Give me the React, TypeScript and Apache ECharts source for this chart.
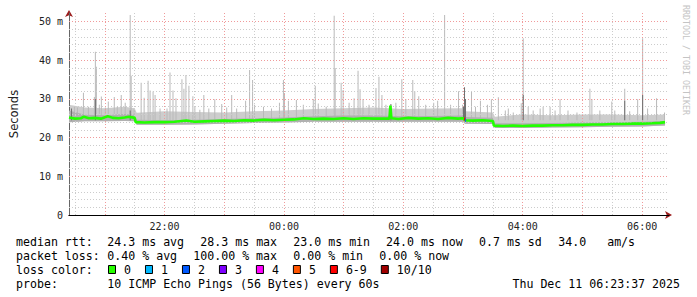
import { useEffect, useRef } from "react";
import * as echarts from "echarts";

// ---- axis / tick data ----
const xStart = "20:24";
const xEnd = "06:27";
const xLabelTimes = ["22:00", "00:00", "02:00", "04:00", "06:00"];
const majorTimes = ["21:00", "22:00", "23:00", "00:00", "01:00", "02:00", "03:00", "04:00", "05:00", "06:00"];
const minorTimes = ["20:30", "21:30", "22:30", "23:30", "00:30", "01:30", "02:30", "03:30", "04:30", "05:30"];
const yMajor = [10, 20, 30, 40, 50];
const yMinor = [2, 4, 6, 8, 12, 14, 16, 18, 22, 24, 26, 28, 32, 34, 36, 38, 42, 44, 46, 48];
const yMax = 52.2;

// ---- median rtt (ms) ----
const medianTimes = ["20:24","20:30","20:36","20:39","20:44","20:50","20:56","21:03","21:08","21:14","21:20","21:24","21:30","21:31","21:40","21:50","22:00","22:10","22:22","22:30","22:40","22:50","23:00","23:10","23:20","23:30","23:40","23:50","00:00","00:10","00:20","00:30","00:40","00:50","01:00","01:10","01:20","01:30","01:40","01:46","01:47","01:48","01:55","02:05","02:15","02:25","02:35","02:45","02:55","03:00","03:02","03:10","03:20","03:30","03:31","03:40","03:50","04:00","04:10","04:20","04:30","04:40","04:50","05:00","05:10","05:20","05:30","05:40","05:50","06:00","06:10","06:18","06:23"];
const medianValues = [25.2,24.9,25.0,25.4,25.0,25.1,24.9,25.5,25.1,25.0,25.2,25.4,25.1,24.0,23.9,24.0,24.0,24.1,24.4,24.1,24.2,24.3,24.4,24.3,24.5,24.4,24.6,24.5,24.6,24.7,25.0,24.8,24.9,24.8,25.0,24.8,25.0,24.9,24.9,24.9,28.3,25.0,24.8,25.1,24.9,25.0,24.8,25.1,24.9,25.0,24.5,24.4,24.5,24.3,23.1,23.0,23.1,23.0,23.1,23.1,23.2,23.2,23.3,23.3,23.4,23.4,23.5,23.5,23.6,23.6,23.7,23.8,24.0];

// ---- samples with packet loss ----
const lossTimes = ["03:01", "03:02"];
const lossValues = [24.8, 24.5];
const lossColors = ["#ff0000", "#0059ff"];

// ---- smoke envelope (ms) ----
const smokeTimes = ["20:24","20:40","21:00","21:20","21:30","21:32","22:00","22:30","23:00","23:30","00:00","00:30","01:00","01:30","02:00","02:30","03:00","03:02","03:30","03:32","04:00","04:30","05:00","05:30","06:00","06:23"];
const smokeLow = [24.0,24.2,24.2,24.3,24.2,23.3,23.3,23.4,23.6,23.8,23.9,24.1,24.1,24.1,24.1,24.1,24.1,23.6,23.5,22.5,22.5,22.6,22.7,22.8,22.9,23.1];
const smokeHigh = [28.5,27.8,27.6,28.0,27.6,26.4,26.8,26.6,26.5,26.8,27.0,27.4,27.6,27.8,27.4,27.5,27.6,26.8,26.5,25.4,26.0,25.8,26.0,26.0,25.8,26.0];
const smokeDarkHigh = [27.0,25.9,25.8,26.1,25.9,24.6,24.5,24.6,24.8,25.0,25.2,25.5,25.7,25.7,25.5,25.6,25.7,25.3,25.1,23.7,23.7,23.8,23.9,24.0,24.1,24.3];

// ---- individual smoke spikes (max ping, ms) ----
const spikeBase = 24.5;
const spikeTimes = [
  "20:29","20:32","20:38","20:43","20:49","20:50","20:51","20:54","20:56","21:00",
  "21:03","21:09","21:12","21:16","21:20","21:25","21:26","21:29","21:36","21:39",
  "21:43","21:45","21:48","21:50","21:55","22:02","22:05","22:08","22:11","22:17",
  "22:19","22:21","22:24","22:28","22:30","22:35","22:39","22:44","22:50","22:57",
  "23:02","23:07","23:12","23:21","23:25","23:28","23:30","23:39","23:47","23:55",
  "23:59","00:00","00:04","00:12","00:19","00:29","00:31","00:34","00:42","00:50",
  "00:51","00:57","00:59","01:05","01:10","01:14","01:16","01:19","01:25","01:32",
  "01:35","01:38","01:42","01:52","01:58","02:02","02:09","02:11","02:15","02:22",
  "02:30","02:34","02:41","02:47","02:55","02:59","03:08","03:12","03:17","03:24",
  "03:28","03:35","03:42","03:45","03:50","03:58","04:00","04:05","04:10","04:17",
  "04:20","04:27","04:32","04:37","04:45","04:54","05:07","05:09","05:17","05:29",
  "05:32","05:42","05:47","05:55","06:00","06:05","06:14","06:22"];
const spikeTops = [
  28.0,27.8,31.6,28.0,30.5,42.2,38.3,28.5,30.6,27.8,
  29.3,30.5,28.0,31.0,29.0,51.7,36.0,27.5,34.2,30.3,
  34.7,32.2,31.9,31.0,27.5,27.5,36.8,32.2,30.2,35.1,
  32.6,36.2,33.4,30.7,28.0,27.2,31.0,27.5,29.9,28.7,
  27.8,31.0,27.5,29.5,37.5,34.9,28.5,28.0,27.5,29.0,
  34.9,31.5,29.5,29.7,28.5,30.0,33.4,28.8,28.0,51.5,
  38.0,34.2,32.3,29.0,30.2,37.3,32.5,30.0,28.5,32.8,
  35.7,31.0,28.5,29.0,35.1,30.0,34.9,32.0,30.7,28.5,
  29.0,29.5,51.7,28.5,32.0,28.5,32.0,28.0,29.5,28.5,
  29.9,30.4,27.0,27.5,26.5,28.9,45.7,28.0,27.0,27.5,
  28.0,28.0,27.0,29.9,27.0,26.5,32.6,30.0,27.0,29.3,
  27.0,32.6,26.8,29.9,45.7,27.5,30.2,26.5];
const darkSpikeTimes = ["20:26","20:50","21:25","01:47","03:00","03:01","03:02","04:00","05:42","06:00"];
const darkSpikeTops = [27.5,30.0,27.0,28.7,28.0,33.0,30.0,31.0,29.5,31.0];

// ---- legend texts ----
const legendRtt = ["median rtt:", "24.3 ms avg", "28.3 ms max", "23.0 ms min", "24.0 ms now", "0.7 ms sd", "34.0   am/s"];
const legendRttX = [16, 107.3, 200.3, 293.3, 386, 479, 558.3];
const legendLoss = ["packet loss:", "0.40 % avg", "100.00 % max", "0.00 % min", "0.00 % now"];
const legendLossX = [16, 107.3, 193.3, 293.3, 379.3];
const lossColorLabels = ["0", "1", "2", "3", "4", "5", "6-9", "10/10"];
const lossColorFills = ["#26ff00", "#00b8ff", "#0059ff", "#7e00ff", "#ff00ff", "#ff5500", "#ff0000", "#a10000"];
const probeText = "10 ICMP Echo Pings (56 Bytes) every 60s";
const dateText = "Thu Dec 11 06:23:37 2025";
const watermark = "RRDTOOL / TOBI OETIKER";

function toMin(s: string): number {
  const [h, m] = s.split(":").map(Number);
  return (h < 12 ? h + 24 : h) * 60 + m;
}
function pad(n: number) {
  return (n < 10 ? "0" : "") + n;
}

const mono = '"DejaVu Sans Mono", monospace';
const legendFont = '11.6px "DejaVu Sans Mono", monospace';

function buildOption(): any {
  const xMin = toMin(xStart);
  const xMax = toMin(xEnd);
  const minorStyle = { color: "#cccccc", type: [1, 2], width: 1 };
  const majorStyle = { color: "#f09a9a", type: [1, 2], width: 1 };

  const gridLines = [
    ...minorTimes.map((t) => ({ xAxis: toMin(t), lineStyle: minorStyle })),
    ...yMinor.map((v) => ({ yAxis: v, lineStyle: minorStyle })),
    ...majorTimes.map((t) => ({ xAxis: toMin(t), lineStyle: majorStyle })),
    ...yMajor.map((v) => ({ yAxis: v, lineStyle: majorStyle })),
  ];

  const bandRender = (hiArr: number[], fill: string) => (params: any, api: any) => {
    if (params.dataIndex !== 0) return null;
    const top = smokeTimes.map((t, i) => api.coord([toMin(t), hiArr[i]]));
    const bot = smokeTimes.map((t, i) => api.coord([toMin(t), smokeLow[i]])).reverse();
    return { type: "polygon", shape: { points: top.concat(bot) }, style: { fill } };
  };

  const barRender = (fill: string) => (params: any, api: any) => {
    const t = api.value(0);
    const p1 = api.coord([t, api.value(2)]);
    const p2 = api.coord([t + 1, api.value(1)]);
    return {
      type: "rect",
      shape: { x: p1[0], y: p1[1], width: p2[0] - p1[0], height: p2[1] - p1[1] },
      style: { fill },
    };
  };

  // legend graphics
  const graphics: any[] = [];
  legendRtt.forEach((s, i) =>
    graphics.push({ type: "text", x: legendRttX[i], y: 241.5, style: { text: s, font: legendFont, fill: "#000", verticalAlign: "middle" } })
  );
  legendLoss.forEach((s, i) =>
    graphics.push({ type: "text", x: legendLossX[i], y: 255.5, style: { text: s, font: legendFont, fill: "#000", verticalAlign: "middle" } })
  );
  graphics.push({ type: "text", x: 16, y: 269.5, style: { text: "loss color:", font: legendFont, fill: "#000", verticalAlign: "middle" } });
  let bx = 108;
  lossColorLabels.forEach((lab, i) => {
    graphics.push({ type: "rect", shape: { x: bx + 0.5, y: 265.5, width: 7, height: 8 }, style: { fill: lossColorFills[i], stroke: "#000", lineWidth: 1 } });
    graphics.push({ type: "text", x: bx + 16, y: 269.5, style: { text: lab, font: legendFont, fill: "#000", verticalAlign: "middle" } });
    bx = bx + 16 + lab.length * 6.98 + 14;
  });
  graphics.push({ type: "text", x: 16, y: 283.5, style: { text: "probe:", font: legendFont, fill: "#000", verticalAlign: "middle" } });
  graphics.push({ type: "text", x: 107.3, y: 283.5, style: { text: probeText, font: legendFont, fill: "#000", verticalAlign: "middle" } });
  graphics.push({ type: "text", x: 680, y: 283.5, style: { text: dateText, font: legendFont, fill: "#000", align: "right", verticalAlign: "middle" } });
  graphics.push({
    type: "text", x: 686, y: 5, rotation: -Math.PI / 2,
    style: { text: watermark, font: '8.3px "DejaVu Sans Mono", monospace', fill: "#c4c4c4", align: "left", verticalAlign: "middle" },
  });

  return {
    animation: false,
    backgroundColor: "#ffffff",
    grid: { left: 66, top: 13, width: 603, height: 202 },
    xAxis: [
      {
        type: "value", min: xMin, max: xMax, position: "bottom", z: 3,
        axisLine: { show: true, onZero: false, lineStyle: { color: "#000", width: 1 } },
        axisTick: { show: false },
        splitLine: { show: false },
        axisLabel: {
          customValues: xLabelTimes.map(toMin),
          formatter: (v: number) => pad(Math.floor(v / 60) % 24) + ":" + pad(v % 60),
          fontFamily: mono, fontSize: 10, color: "#222", margin: 6,
        },
      },
      {
        type: "value", min: xMin, max: xMax, position: "bottom", z: 2,
        axisLine: { show: true, onZero: false, symbol: ["none", "arrow"], symbolSize: [6, 7], symbolOffset: [0, 3], lineStyle: { color: "#9b1c1c" } },
        axisTick: { show: false }, axisLabel: { show: false }, splitLine: { show: false },
      },
    ],
    yAxis: [
      {
        type: "value", min: 0, max: yMax, interval: 10, position: "left", z: 3,
        name: "Seconds", nameLocation: "middle", nameRotate: 90, nameGap: 49,
        nameTextStyle: { fontFamily: '"DejaVu Sans", sans-serif', fontSize: 11.5, color: "#222" },
        axisLine: { show: true, onZero: false, lineStyle: { color: "#666", width: 1 } },
        axisTick: { show: false },
        splitLine: { show: false },
        axisLabel: {
          showMaxLabel: false,
          formatter: (v: number) => (v === 0 ? "0" : v + " m"),
          fontFamily: mono, fontSize: 10, color: "#222", margin: 6,
        },
      },
      {
        type: "value", min: 0, max: yMax, position: "left", z: 2,
        axisLine: { show: true, onZero: false, symbol: ["none", "arrow"], symbolSize: [6, 7], symbolOffset: [0, 3], lineStyle: { color: "#9b1c1c" } },
        axisTick: { show: false }, axisLabel: { show: false }, splitLine: { show: false },
      },
    ],
    series: [
      {
        type: "line", xAxisIndex: 0, yAxisIndex: 0, data: [], z: 1, silent: true,
        markLine: { silent: true, symbol: ["none", "none"], label: { show: false }, animation: false, data: gridLines },
      },
      {
        type: "custom", xAxisIndex: 0, yAxisIndex: 0, z: 2, silent: true,
        data: smokeTimes.map((t, i) => [toMin(t), smokeLow[i], smokeHigh[i]]),
        encode: { x: 0, y: [1, 2] },
        renderItem: bandRender(smokeHigh, "#cdcdcd"),
      },
      {
        type: "custom", xAxisIndex: 0, yAxisIndex: 0, z: 3, silent: true,
        data: spikeTimes.map((t, i) => [toMin(t), spikeBase, spikeTops[i]]),
        encode: { x: 0, y: [1, 2] },
        renderItem: barRender("#b9b9b9"),
      },
      {
        type: "custom", xAxisIndex: 0, yAxisIndex: 0, z: 4, silent: true,
        data: smokeTimes.map((t, i) => [toMin(t), smokeLow[i], smokeDarkHigh[i]]),
        encode: { x: 0, y: [1, 2] },
        renderItem: bandRender(smokeDarkHigh, "#b0b0b0"),
      },
      {
        type: "custom", xAxisIndex: 0, yAxisIndex: 0, z: 5, silent: true,
        data: darkSpikeTimes.map((t, i) => [toMin(t), spikeBase, darkSpikeTops[i]]),
        encode: { x: 0, y: [1, 2] },
        renderItem: barRender("#6e6e6e"),
      },
      {
        type: "line", xAxisIndex: 0, yAxisIndex: 0, z: 6, silent: true,
        data: medianTimes.map((t, i) => [toMin(t), medianValues[i]]),
        symbol: "none",
        lineStyle: { color: "#22ff00", width: 2.6 },
      },
      {
        type: "custom", xAxisIndex: 0, yAxisIndex: 0, z: 7, silent: true,
        data: lossTimes.map((t, i) => [toMin(t), lossValues[i] - 0.4, lossValues[i] + 0.4]),
        encode: { x: 0, y: [1, 2] },
        renderItem: (params: any, api: any) => {
          const t = api.value(0);
          const p1 = api.coord([t, api.value(2)]);
          const p2 = api.coord([t + 1, api.value(1)]);
          return {
            type: "rect",
            shape: { x: p1[0], y: p1[1], width: p2[0] - p1[0], height: p2[1] - p1[1] },
            style: { fill: lossColors[params.dataIndex] },
          };
        },
      },
    ],
    graphic: graphics,
  };
}

export default function App() {
  const ref = useRef<HTMLDivElement>(null);
  useEffect(() => {
    const chart = echarts.init(ref.current!, null, { renderer: "svg" });
    chart.setOption(buildOption());
    return () => chart.dispose();
  }, []);
  return <div ref={ref} style={{ position: "fixed", left: 0, top: 0, width: 697, height: 297 }} />;
}
